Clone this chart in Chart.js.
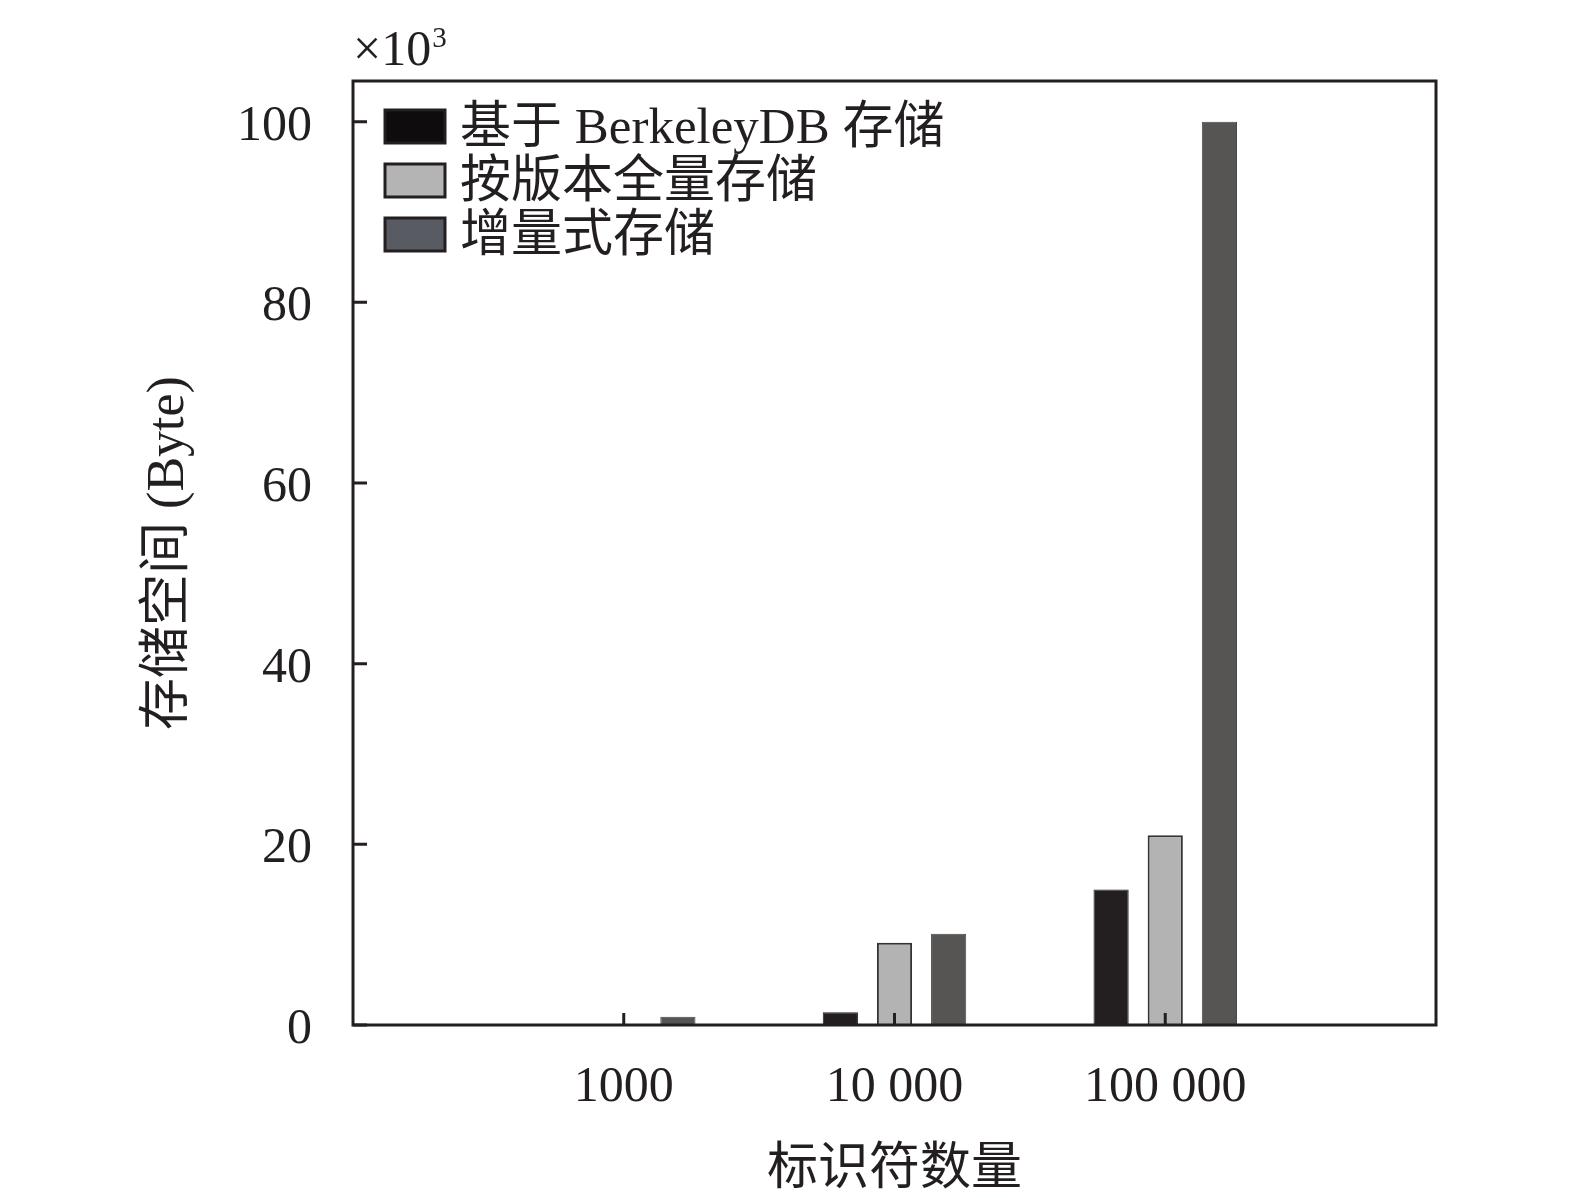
<!DOCTYPE html>
<html>
<head>
<meta charset="utf-8">
<script src="https://cdn.jsdelivr.net/npm/chart.js@4.4.1/dist/chart.umd.min.js"></script>
<style>
  html, body { margin: 0; padding: 0; background: #fff; }
  #wrap { width: 1575px; height: 1198px; }
</style>
</head>
<body>
<div id="wrap"><canvas id="storageChart"></canvas></div>
<script>
// chart data (values in units of 10^3 Byte)
var categories = ['1000', '10 000', '100 000'];
var seriesNames = ['基于 BerkeleyDB 存储', '按版本全量存储', '增量式存储'];
var berkeleyValues = [0.05, 1.4, 15.0];
var fullValues = [0.05, 9.1, 21.0];
var incrementalValues = [0.9, 10.1, 100.0];
var yTicks = [0, 20, 40, 60, 80, 100];

var serif = "'Liberation Serif', 'Noto Sans CJK SC', serif";
var ink = '#231f20';

// empty slots at both ends so the groups sit at 1/4, 1/2, 3/4 of the width
function pad(arr) { return [null].concat(arr, [null]); }
var labels = [''].concat(categories, ['']);

var legendFills = ['#0e0c0d', '#b4b4b4', '#585b61'];

// frame, inner tick marks, legend and the x10^3 note
var decorPlugin = {
    id: 'decor',
    afterDraw: function (chart) {
        var ctx = chart.ctx;
        var a = chart.chartArea;
        var xs = chart.scales.x, ys = chart.scales.y;
        ctx.save();
        ctx.strokeStyle = ink;
        ctx.lineWidth = 3;
        ctx.strokeRect(a.left, a.top, a.right - a.left, a.bottom - a.top);

        ctx.beginPath();
        yTicks.forEach(function (v) {
            var py = ys.getPixelForValue(v);
            ctx.moveTo(a.left, py);
            ctx.lineTo(a.left + 14, py);
        });
        categories.forEach(function (c, i) {
            var px = xs.getPixelForTick(i + 1);
            ctx.moveTo(px, a.bottom);
            ctx.lineTo(px, a.bottom - 12);
        });
        ctx.stroke();

        // legend
        ctx.font = '51px ' + serif;
        ctx.textBaseline = 'middle';
        ctx.textAlign = 'left';
        chart.data.datasets.forEach(function (ds, i) {
            var top = 110 + i * 54;
            ctx.fillStyle = legendFills[i];
            ctx.fillRect(385, top, 60, 33);
            ctx.lineWidth = 3;
            ctx.strokeStyle = ink;
            ctx.strokeRect(385, top, 60, 33);
            ctx.fillStyle = ink;
            ctx.fillText(ds.label, 460, top + 20);
        });

        // x10^3
        ctx.textBaseline = 'alphabetic';
        ctx.font = '50px ' + serif;
        ctx.fillText('×10', 353, 65);
        var w = ctx.measureText('×10').width;
        ctx.font = '29px ' + serif;
        ctx.fillText('3', 353 + w + 1, 47);
        ctx.restore();
    }
};

var ctx = document.getElementById('storageChart').getContext('2d');
var chart = new Chart(ctx, {
    type: 'bar',
    data: {
        labels: labels,
        datasets: [{
            label: seriesNames[0],
            data: pad(berkeleyValues),
            backgroundColor: '#231f20',
            borderColor: '#231f20',
            borderWidth: 1
        }, {
            label: seriesNames[1],
            data: pad(fullValues),
            backgroundColor: '#b3b3b3',
            borderColor: '#333333',
            borderWidth: 2
        }, {
            label: seriesNames[2],
            data: pad(incrementalValues),
            backgroundColor: '#575553',
            borderColor: '#4a4847',
            borderWidth: 1
        }]
    },
    options: {
        responsive: true,
        maintainAspectRatio: false,
        animation: false,
        devicePixelRatio: 1,
        datasets: {
            bar: {
                categoryPercentage: 0.6,
                barPercentage: 0.65,
                borderSkipped: 'bottom'
            }
        },
        layout: { padding: { left: 0, top: 81, right: 139, bottom: 0 } },
        plugins: {
            legend: { display: false },
            tooltip: { enabled: false }
        },
        scales: {
            x: {
                type: 'category',
                offset: false,
                grid: { display: false, drawTicks: false },
                border: { display: false },
                ticks: {
                    color: ink,
                    font: { family: serif, size: 50 },
                    padding: 33,
                    maxRotation: 0,
                    autoSkip: false
                },
                title: {
                    display: true,
                    text: '标识符数量',
                    color: ink,
                    font: { family: serif, size: 51 },
                    padding: { top: 0, bottom: -3 }
                },
                afterFit: function (s) { s.height = 173; }
            },
            y: {
                min: 0,
                max: 104.5,
                afterBuildTicks: function (s) {
                    s.ticks = yTicks.map(function (v) { return { value: v }; });
                },
                grid: { display: false, drawTicks: false },
                border: { display: false },
                ticks: {
                    color: ink,
                    font: { family: serif, size: 50 },
                    padding: 41,
                    labelOffset: 5
                },
                title: {
                    display: true,
                    text: '存储空间 (Byte)',
                    color: ink,
                    font: { family: serif, size: 52 },
                    padding: { top: 138, bottom: 0 }
                },
                afterFit: function (s) { s.width = 353; }
            }
        }
    },
    plugins: [decorPlugin]
});
</script>
</body>
</html>
